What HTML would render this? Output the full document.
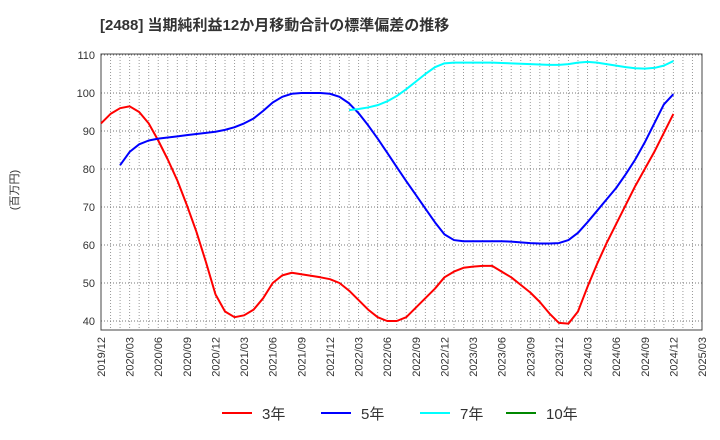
<!DOCTYPE html>
<html><head><meta charset="utf-8"><style>
body{margin:0;background:#fff;}
svg{display:block;font-family:"Liberation Sans","Noto Sans CJK JP",sans-serif;}
</style></head><body>
<svg id="chart" width="720" height="440">
<text x="100" y="30" font-size="15" font-weight="bold" fill="#333">[2488]  当期純利益12か月移動合計の標準偏差の推移</text>
<text transform="translate(18,190) rotate(-90)" text-anchor="middle" font-size="11" fill="#333">(百万円)</text>
<g id="grid"></g><g id="axes"></g><g id="series"></g>
<g id="legend"></g>
</svg>
<script>
const yTicks=[40,50,60,70,80,90,100,110];
const xTickLabels=["2019/12","2020/03","2020/06","2020/09","2020/12","2021/03","2021/06","2021/09","2021/12","2022/03","2022/06","2022/09","2022/12","2023/03","2023/06","2023/09","2023/12","2024/03","2024/06","2024/09","2024/12","2025/03"];
const red3=[92,94.5,96,96.5,95,92,87.5,82.5,77,70.5,63.5,55.5,47,42.5,41,41.5,43,46,50,52,52.7,52.3,51.9,51.5,51,50,48,45.5,43,41,40,40,41,43.5,46,48.5,51.5,53,54,54.3,54.5,54.5,53,51.5,49.5,47.5,45,42,39.5,39.3,42.5,49,55,60.5,65.5,70.5,75.5,80,84.5,89.5,94.5];
const red3Start=0;
const blue5=[81,84.5,86.5,87.5,88,88.3,88.6,88.9,89.2,89.5,89.8,90.3,91,92,93.3,95.3,97.5,99,99.8,100,100,100,99.8,99,97.3,94.7,91.5,88,84.3,80.5,76.8,73.2,69.6,66,62.8,61.3,61,61,61,61,61,60.9,60.7,60.5,60.4,60.4,60.5,61.3,63.2,66,69,72,75,78.6,82.5,87,92,97,99.7];
const blue5Start=2;
const cyan7=[95.5,95.8,96.2,96.8,97.8,99.2,101,103,105,106.8,107.8,108,108,108,108,108,107.9,107.8,107.7,107.6,107.5,107.4,107.4,107.6,108,108.2,108,107.6,107.2,106.8,106.5,106.4,106.6,107.2,108.4];
const cyan7Start=26;
const green10=[];
const legendLabels=["3年","5年","7年","10年"];
const legendColors=["#f00","#00f","#0ff","#080"];

const L=101,R=702,T=54,B=330;
const xs=m=>L+m*(R-L)/63;
const ys=v=>321-(v-40)*3.8;
const NS="http://www.w3.org/2000/svg";
function mk(tag,attrs,parent){const e=document.createElementNS(NS,tag);for(const k in attrs)e.setAttribute(k,attrs[k]);parent.appendChild(e);return e;}
const grid=document.getElementById('grid'),axes=document.getElementById('axes'),series=document.getElementById('series'),legend=document.getElementById('legend');
for(let m=1;m<63;m++){const g=mk('line',{x1:xs(m),x2:xs(m),y1:T,y2:B,stroke:'#999','stroke-dasharray':'1,2','stroke-width':1},grid);

}
yTicks.forEach(v=>{const g=mk('line',{x1:L,x2:R,y1:ys(v),y2:ys(v),stroke:'#777','stroke-dasharray':'1,2','stroke-width':1},grid);


const t=mk('text',{x:L-6,y:ys(v)+4,'text-anchor':'end','font-size':11,fill:'#333'},axes);t.textContent=v;

});
xTickLabels.forEach((s,i)=>{const x=xs(i*3);const t=mk('text',{transform:`translate(${x+4},337) rotate(-90)`,'text-anchor':'end','font-size':11,fill:'#333'},axes);t.textContent=s;

});
const frame=mk('rect',{x:L,y:T,width:R-L,height:B-T,fill:'none',stroke:'#444','stroke-width':1},axes);


function line(arr,start,color,name){if(!arr.length)return;const p=mk('polyline',{points:arr.map((v,i)=>xs(start+i)+','+ys(v)).join(' '),fill:'none',stroke:color,'stroke-width':2,'stroke-linejoin':'round'},series);

}
line(red3,red3Start,'#f00','line-3yr');
line(blue5,blue5Start,'#00f','line-5yr');
line(cyan7,cyan7Start,'#0ff','line-7yr');
line(green10,0,'#080','line-10yr');
const lx=[222,321,420,506];
legendLabels.forEach((s,i)=>{const l=mk('line',{x1:lx[i],x2:lx[i]+30,y1:413,y2:413,stroke:legendColors[i],'stroke-width':2},legend);


const t=mk('text',{x:lx[i]+40,y:419,'font-size':15,fill:'#333'},legend);t.textContent=s;

});
</script>
</body></html>
